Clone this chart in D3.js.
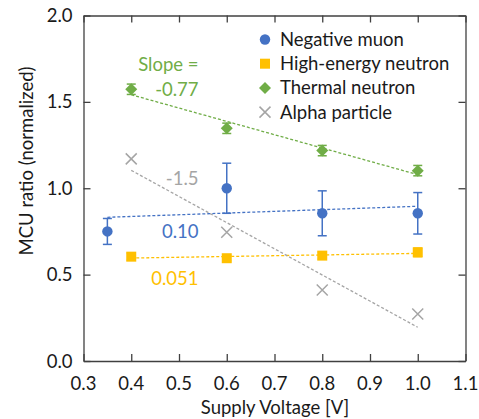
<!doctype html>
<html>
  <head>
    <meta charset="utf-8" />
    <title>MCU ratio vs supply voltage</title>
    <script type="text/javascript" src="https://cdnjs.cloudflare.com/ajax/libs/d3/7.8.5/d3.min.js"></script>
    <style>
      body { margin:0; background:#fff; font-family:Lato, "Open Sans", sans-serif; }
      svg text { font-family:Lato, "Open Sans", sans-serif; }
    </style>
  </head>
  <body>
    <div id="chart"></div>
    <script type="text/javascript">

/*data*/
var series_names = ["Negative muon", "High-energy neutron", "Thermal neutron", "Alpha particle"];
var series_colors = ["#4472C4", "#FFC000", "#70AD47", "#A5A5A5"];
var series_symbols = ["circle", "square", "diamond", "cross"];

var muon_x = [0.35, 0.6, 0.8, 1.0];
var muon_y = [0.75, 1.0, 0.855, 0.855];
var muon_err = [0.075, 0.145, 0.13, 0.12];

var hen_x = [0.4, 0.6, 0.8, 1.0];
var hen_y = [0.604, 0.595, 0.61, 0.629];
var hen_err = [0.02, 0.015, 0.02, 0.025];

var thermal_x = [0.4, 0.6, 0.8, 1.0];
var thermal_y = [1.573, 1.347, 1.218, 1.102];
var thermal_err = [0.03, 0.03, 0.03, 0.03];

var alpha_x = [0.4, 0.6, 0.8, 1.0];
var alpha_y = [1.17, 0.745, 0.411, 0.272];
var alpha_err = [0, 0, 0, 0];

/*slope labels: text, anchor point (right aligned)*/
var label_texts = ["Slope =", "-0.77", "-1.5", "0.10", "0.051"];
var label_series = [2, 2, 3, 0, 1];
var label_x = [0.541, 0.541, 0.541, 0.541, 0.541];
var label_y = [1.714, 1.569, 1.054, 0.747, 0.475];

var x_ticks = [0.3, 0.4, 0.5, 0.6, 0.7, 0.8, 0.9, 1.0, 1.1];
var y_ticks = [0.0, 0.5, 1.0, 1.5, 2.0];

var W = 479, H = 419;
var m = {left:83.5, top:15.5, right:13.5, bottom:58};
var fs = 18.5;

function linreg(xs, ys) {
  var n = xs.length, mx = d3.mean(xs), my = d3.mean(ys);
  var sxy = 0, sxx = 0;
  for (var i = 0; i < n; i++) {
    sxy += (xs[i]-mx)*(ys[i]-my);
    sxx += (xs[i]-mx)*(xs[i]-mx);
  }
  var b = sxy/sxx;
  return {slope:b, icpt:my - b*mx};
}

/*marker path builders, centred at 0,0*/
var marker = {
  circle: function() { return d3.symbol().type(d3.symbolCircle).size(85)(); },
  square: function() { return "M-5,-5H5V5H-5Z"; },
  diamond: function() { return "M0,-6L6,0L0,6L-6,0Z"; },
  cross: function() { return "M-5.5,-5.5L5.5,5.5M-5.5,5.5L5.5,-5.5"; }
};

function main() {
  var svg = d3.select("#chart").append("svg")
    .attr("width", W).attr("height", H);

  var x = d3.scaleLinear().domain([0.3, 1.1]).range([m.left, W - m.right]);
  var y = d3.scaleLinear().domain([0, 2]).range([H - m.bottom, m.top]);

  var axis_color = "#404040";

  /*frame with inward ticks on every side*/
  var tick_len = 7;
  function style_axis(g) {
    g.selectAll("path,line").attr("stroke", axis_color).attr("stroke-width", 1.3);
  }
  svg.append("g").attr("transform", "translate(0," + y(0) + ")")
    .call(d3.axisBottom(x).tickValues(x_ticks).tickSize(-tick_len).tickSizeOuter(0).tickFormat(""))
    .call(style_axis);
  svg.append("g").attr("transform", "translate(0," + y(2) + ")")
    .call(d3.axisTop(x).tickValues(x_ticks).tickSize(-tick_len).tickSizeOuter(0).tickFormat(""))
    .call(style_axis);
  svg.append("g").attr("transform", "translate(" + x(0.3) + ",0)")
    .call(d3.axisLeft(y).tickValues(y_ticks).tickSize(-tick_len).tickSizeOuter(0).tickFormat(""))
    .call(style_axis);
  svg.append("g").attr("transform", "translate(" + x(1.1) + ",0)")
    .call(d3.axisRight(y).tickValues(y_ticks).tickSize(-tick_len).tickSizeOuter(0).tickFormat(""))
    .call(style_axis);

  /*tick labels*/
  svg.append("g").selectAll("text").data(x_ticks).join("text")
    .attr("x", function(d) { return x(d); })
    .attr("y", y(0) + 29)
    .attr("text-anchor", "middle")
    .attr("font-size", fs).attr("fill", "#1a1a1a")
    .text(function(d) { return d.toFixed(1); });
  svg.append("g").selectAll("text").data(y_ticks).join("text")
    .attr("x", m.left - 11)
    .attr("y", function(d) { return y(d) + 6.5; })
    .attr("text-anchor", "end")
    .attr("font-size", fs).attr("fill", "#1a1a1a")
    .text(function(d) { return d.toFixed(1); });

  /*axis titles*/
  svg.append("text")
    .attr("x", 275).attr("y", 414)
    .attr("text-anchor", "middle").attr("font-size", fs).attr("fill", "#1a1a1a")
    .text("Supply Voltage [V]");
  svg.append("text")
    .attr("transform", "translate(33,161) rotate(-90)")
    .attr("text-anchor", "middle").attr("font-size", fs).attr("fill", "#1a1a1a")
    .text("MCU ratio (normalized)");

  var all_x = [muon_x, hen_x, thermal_x, alpha_x];
  var all_y = [muon_y, hen_y, thermal_y, alpha_y];
  var all_err = [muon_err, hen_err, thermal_err, alpha_err];

  /*trend lines first*/
  all_x.forEach(function(xs, s) {
    var fit = linreg(xs, all_y[s]);
    var x0 = d3.min(xs), x1 = d3.max(xs);
    svg.append("line")
      .attr("x1", x(x0)).attr("y1", y(fit.icpt + fit.slope*x0))
      .attr("x2", x(x1)).attr("y2", y(fit.icpt + fit.slope*x1))
      .attr("stroke", series_colors[s]).attr("stroke-width", 1.3)
      .attr("stroke-dasharray", "3,2");
  });

  /*error bars and markers*/
  all_x.forEach(function(xs, s) {
    var pts = xs.map(function(v, i) { return {x:v, y:all_y[s][i], e:all_err[s][i]}; });
    var g = svg.append("g");
    var eb = g.selectAll("g.err").data(pts.filter(function(p) { return p.e > 0; })).join("g");
    eb.append("line")
      .attr("x1", function(p) { return x(p.x); }).attr("x2", function(p) { return x(p.x); })
      .attr("y1", function(p) { return y(p.y + p.e); }).attr("y2", function(p) { return y(p.y - p.e); })
      .attr("stroke", series_colors[s]).attr("stroke-width", 1.5);
    [1, -1].forEach(function(sign) {
      eb.append("line")
        .attr("x1", function(p) { return x(p.x) - 4.5; }).attr("x2", function(p) { return x(p.x) + 4.5; })
        .attr("y1", function(p) { return y(p.y + sign*p.e); }).attr("y2", function(p) { return y(p.y + sign*p.e); })
        .attr("stroke", series_colors[s]).attr("stroke-width", 1.5);
    });
    var is_cross = series_symbols[s] === "cross";
    g.selectAll("path.mk").data(pts).join("path")
      .attr("transform", function(p) { return "translate(" + x(p.x) + "," + y(p.y) + ")"; })
      .attr("d", marker[series_symbols[s]]())
      .attr("fill", is_cross ? "none" : series_colors[s])
      .attr("stroke", is_cross ? series_colors[s] : "none")
      .attr("stroke-width", 1.5);
  });

  /*slope labels*/
  svg.append("g").selectAll("text").data(label_texts).join("text")
    .attr("x", function(d, i) { return x(label_x[i]); })
    .attr("y", function(d, i) { return y(label_y[i]) + 6.5; })
    .attr("text-anchor", "end").attr("font-size", fs)
    .attr("fill", function(d, i) { return series_colors[label_series[i]]; })
    .text(function(d) { return d; });

  /*legend*/
  var leg = svg.append("g");
  series_names.forEach(function(name, i) {
    var ly = 39.5 + i*24.2;
    var s = series_symbols[i];
    leg.append("path")
      .attr("transform", "translate(265," + ly + ")")
      .attr("d", marker[s]())
      .attr("fill", s === "cross" ? "none" : series_colors[i])
      .attr("stroke", s === "cross" ? series_colors[i] : "none")
      .attr("stroke-width", 1.5);
    leg.append("text")
      .attr("x", 280).attr("y", ly + 6.5)
      .attr("font-size", fs).attr("fill", "#1a1a1a")
      .text(name);
  });
}

document.addEventListener("DOMContentLoaded", main);
    </script>
  </body>
</html>
